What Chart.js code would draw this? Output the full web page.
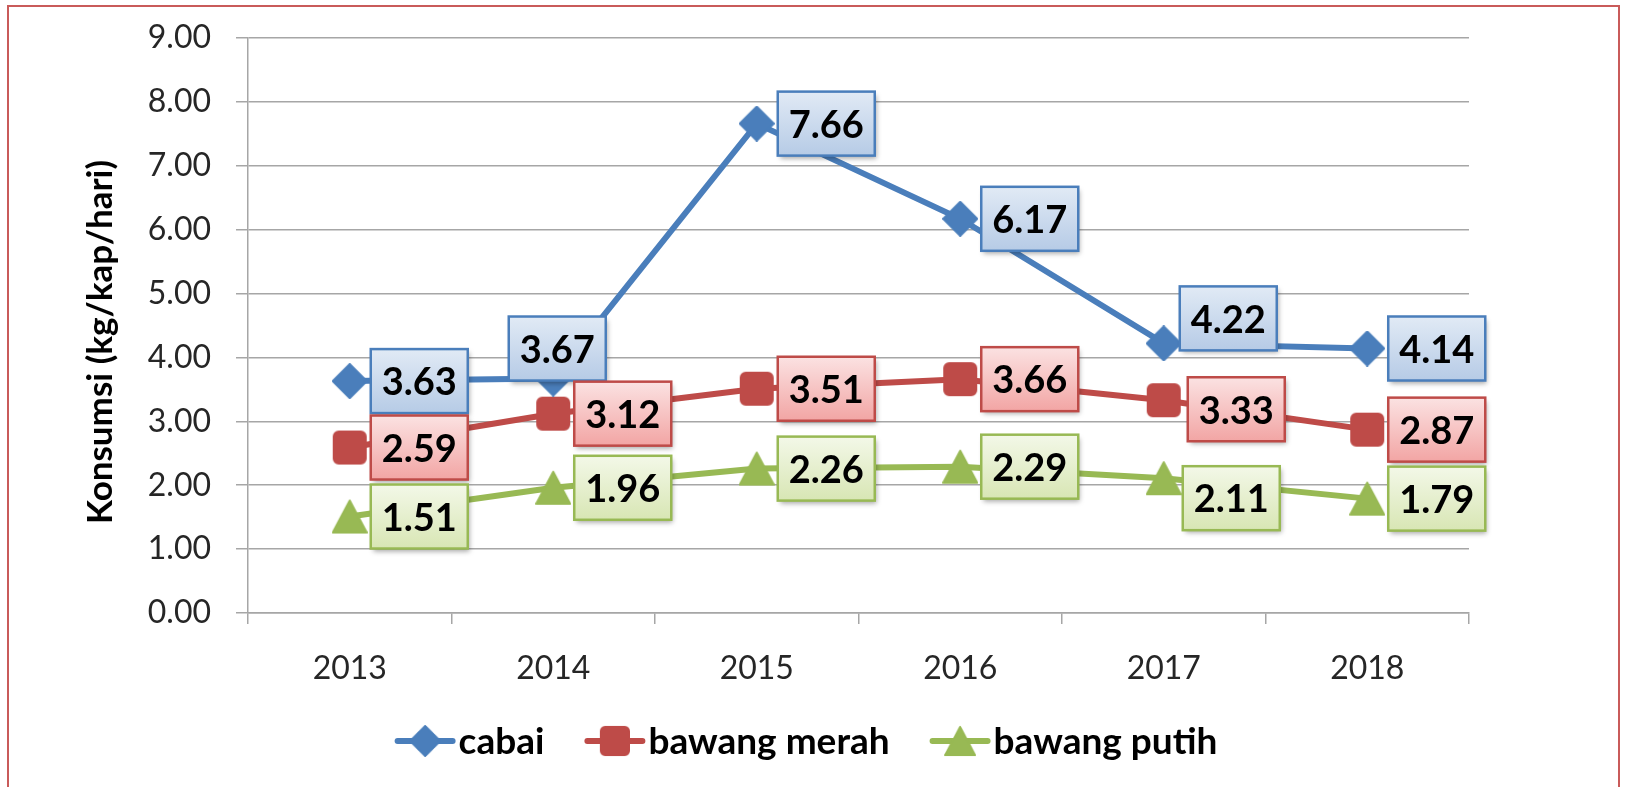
<!DOCTYPE html>
<html>
<head>
<meta charset="utf-8">
<title>Konsumsi cabai dan bawang</title>
<script src="https://cdn.jsdelivr.net/npm/chart.js@4.4.1/dist/chart.umd.min.js"></script>
<style>
  html, body { margin: 0; padding: 0; background: #fff; overflow: hidden; }
  #frame { position: absolute; left: 7px; top: 5px; width: 1609px; height: 900px; border: 2.5px solid #c95b5a; }
  #wrap { position: absolute; left: 0; top: 0; width: 1626px; height: 787px; }
</style>
</head>
<body>
<div id="frame"></div>
<div id="wrap"><canvas id="chart" width="1626" height="787"></canvas></div>
<script>
// Data
const years = ['2013', '2014', '2015', '2016', '2017', '2018'];
const cabai = [3.63, 3.67, 7.66, 6.17, 4.22, 4.14];
const bawangMerah = [2.59, 3.12, 3.51, 3.66, 3.33, 2.87];
const bawangPutih = [1.51, 1.96, 2.26, 2.29, 2.11, 1.79];
const seriesNames = ['cabai', 'bawang merah', 'bawang putih'];
const yTitle = 'Konsumsi (kg/kap/hari)';

// Styling
const FONT = 'Lato, "Open Sans", sans-serif';
const lineColors = ['#4a7ebb', '#be4b48', '#98b954'];
const boxTop = ['#e1eaf5', '#fbe2e2', '#f3f8e8'];
const boxBottom = ['#b6cbe6', '#f2a5a4', '#d8e6b4'];
const gridColor = '#a6a6a6';

// label nudges (dx = gap from point to box left, dy = vertical shift), 'above' puts box over point
const labelShift = [
    [{}, { above: true }, {}, {}, { dx: 16, dy: -25 }, {}],
    [{}, {}, {}, {}, { dx: 24, dy: 9 }, {}],
    [{}, {}, {}, {}, { dx: 19, dy: 20 }, {}]
];

// Marker images
function makeMarker(kind, color) {
    const cv = document.createElement('canvas');
    cv.width = 36; cv.height = 36;
    const g = cv.getContext('2d');
    g.fillStyle = color;
    g.strokeStyle = color;
    g.lineJoin = 'round';
    g.lineWidth = 2;
    g.beginPath();
    if (kind === 'diamond') {
        g.moveTo(18, 1); g.lineTo(35, 18); g.lineTo(18, 35); g.lineTo(1, 18);
    } else if (kind === 'square') {
        g.roundRect(2, 2, 32, 32, 5);
    } else {
        g.moveTo(18, 2); g.lineTo(35, 34); g.lineTo(1, 34);
    }
    g.closePath();
    g.fill();
    g.stroke();
    return cv;
}
const markers = [
    makeMarker('diamond', lineColors[0]),
    makeMarker('square', lineColors[1]),
    makeMarker('triangle', lineColors[2])
];

function makeDataset(i, values) {
    return {
        label: seriesNames[i],
        data: values,
        borderColor: lineColors[i],
        backgroundColor: lineColors[i],
        borderWidth: 6,
        pointStyle: markers[i],
        tension: 0
    };
}

// Data label boxes, legend and axis title
const extrasPlugin = {
    id: 'extras',
    afterDatasetsDraw(chart) {
        const c = chart.ctx;
        const w = 97, h = 64;
        chart.data.datasets.forEach((ds, i) => {
            const meta = chart.getDatasetMeta(i);
            meta.data.forEach((pt, j) => {
                const s = labelShift[i][j] || {};
                let x, y;
                if (s.above) {
                    x = pt.x + 4 - w / 2;
                    y = pt.y + 2 - h;
                } else {
                    x = pt.x + (s.dx !== undefined ? s.dx : 21);
                    y = pt.y - h / 2 + (s.dy || 0);
                }
                c.save();
                c.shadowColor = 'rgba(0,0,0,0.35)';
                c.shadowBlur = 5;
                c.shadowOffsetX = 2;
                c.shadowOffsetY = 3;
                const grad = c.createLinearGradient(0, y, 0, y + h);
                grad.addColorStop(0, boxTop[i]);
                grad.addColorStop(1, boxBottom[i]);
                c.fillStyle = grad;
                c.fillRect(x, y, w, h);
                c.restore();
                c.save();
                c.strokeStyle = lineColors[i];
                c.lineWidth = 2.5;
                c.strokeRect(x, y, w, h);
                c.fillStyle = '#000';
                c.font = 'bold 38px ' + FONT;
                c.textAlign = 'center';
                c.textBaseline = 'middle';
                c.fillText(ds.data[j].toFixed(2), x + w / 2, y + h / 2 + 2);
                c.restore();
            });
        });
    },
    afterDraw(chart) {
        const c = chart.ctx;
        // y axis title
        c.save();
        c.translate(101, 342);
        c.rotate(-Math.PI / 2);
        c.fillStyle = '#000';
        c.font = 'bold 35px ' + FONT;
        c.textAlign = 'center';
        c.textBaseline = 'middle';
        c.fillText(yTitle, 0, 0);
        c.restore();

        // legend: line + marker + bold text
        c.save();
        c.font = 'bold 37px ' + FONT;
        const lineLen = 61, gap = 40, ly = 741;
        const widths = seriesNames.map(n => lineLen + 3 + c.measureText(n).width);
        const total = widths.reduce((a, b) => a + b, 0) + gap * (seriesNames.length - 1);
        let x = 806 - total / 2;
        seriesNames.forEach((name, i) => {
            c.strokeStyle = lineColors[i];
            c.lineWidth = 6;
            c.lineCap = 'round';
            c.beginPath();
            c.moveTo(x + 3, ly);
            c.lineTo(x + lineLen - 3, ly);
            c.stroke();
            c.drawImage(markers[i], x + lineLen / 2 - 16, ly - 16, 32, 32);
            c.fillStyle = '#000';
            c.textAlign = 'left';
            c.textBaseline = 'middle';
            c.fillText(name, x + lineLen + 3, ly + 1);
            x += widths[i] + gap;
        });
        c.restore();
    }
};

const ctx = document.getElementById('chart');
const chart = new Chart(ctx.getContext('2d'), {
    type: 'line',
    data: {
        labels: years,
        datasets: [
            makeDataset(0, cabai),
            makeDataset(1, bawangMerah),
            makeDataset(2, bawangPutih)
        ]
    },
    options: {
        responsive: false,
        animation: false,
        events: [],
        layout: { padding: { left: 0, top: 38, right: 157, bottom: 94 } },
        plugins: {
            legend: { display: false },
            tooltip: { enabled: false }
        },
        scales: {
            x: {
                offset: true,
                grid: { drawOnChartArea: false, drawTicks: true, tickLength: 11, color: gridColor, lineWidth: 1.5, offset: true },
                border: { color: gridColor, width: 1.5 },
                ticks: { color: '#262626', font: { family: FONT, size: 32 }, padding: 25 },
                afterFit(s) { s.height = 80; }
            },
            y: {
                min: 0,
                max: 9,
                ticks: {
                    stepSize: 1,
                    color: '#262626',
                    font: { family: FONT, size: 32 },
                    padding: 25,
                    callback: v => v.toFixed(2)
                },
                grid: { color: gridColor, lineWidth: 1.5, tickLength: 12 },
                border: { color: gridColor, width: 1.5 },
                afterFit(s) {
                    s.width = 248;
                    // tick padding would otherwise push the chart area down
                    s.paddingTop = 10;
                    s.paddingBottom = 10;
                }
            }
        }
    },
    plugins: [extrasPlugin]
});
</script>
</body>
</html>
